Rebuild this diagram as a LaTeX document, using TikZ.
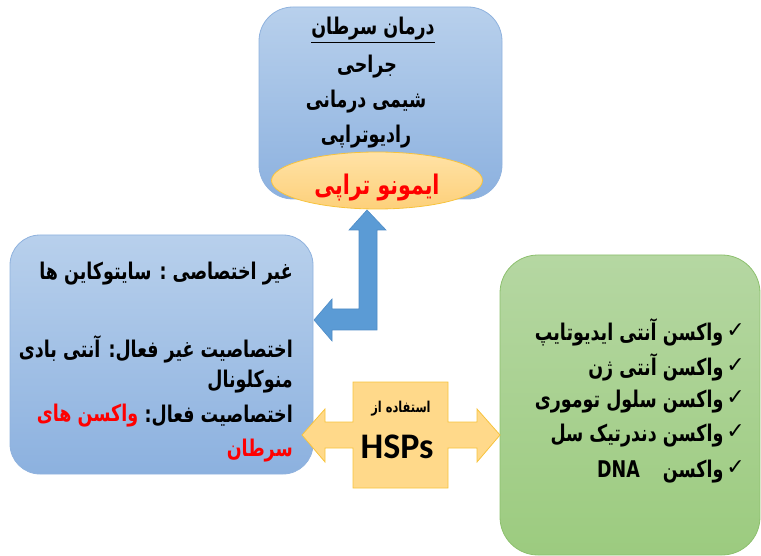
\documentclass[tikz,border=0pt]{standalone}
\usepackage{fontspec}
\TeXXeTstate=1
\newfontfamily\fa[Script=Arabic, FakeStretch=0.76]{DejaVu Sans}
\newfontfamily\faplain{DejaVu Sans}
\newfontfamily\carlitofont{Carlito}
\usetikzlibrary{shapes.geometric}
\definecolor{bluetop}{HTML}{B8D0EC}
\definecolor{bluebot}{HTML}{8CB1DF}
\definecolor{blueedge}{HTML}{8FB2DE}
\definecolor{arrowblue}{HTML}{5B9BD5}
\definecolor{arrowblueedge}{HTML}{4F8CC6}
\definecolor{oratop}{HTML}{FFE2A6}
\definecolor{orabot}{HTML}{FDD07A}
\definecolor{oraedge}{HTML}{F7C33D}
\definecolor{orafill}{HTML}{FFD98A}
\definecolor{greentop}{HTML}{B5D7A2}
\definecolor{greenbot}{HTML}{9CCB7F}
\definecolor{greenedge}{HTML}{8DC06E}
\newcommand{\chk}{\raisebox{3pt}{\faplain\mdseries\fontsize{22}{22}\selectfont ✓}\hspace{3pt}}
\tikzset{
  bluebox/.style={draw=blueedge, line width=0.8pt, rounded corners=34pt, top color=bluetop, bottom color=bluebot, inner sep=0pt},
  greenbox/.style={draw=greenedge, line width=0.8pt, rounded corners=38pt, top color=greentop, bottom color=greenbot, inner sep=0pt},
  oval/.style={ellipse, draw=oraedge, line width=0.8pt, top color=oratop, bottom color=orabot, inner sep=0pt},
  fatxt/.style={font=\fa\bfseries\fontsize{23}{25}\selectfont, inner sep=0pt},
  blockblue/.style={fill=arrowblue, draw=arrowblueedge, line width=0.6pt, line join=miter},
  blockora/.style={fill=orafill, draw=oraedge, line width=0.8pt, line join=miter},
}
\begin{document}
\begin{tikzpicture}[x=1pt,y=-1pt]
\useasboundingbox (0,0) rectangle (761,556);
% top box
\node[bluebox, minimum width=243pt, minimum height=192pt] (top) at (380.5,103) {};
\node[fatxt] (t1) at (373,30) {\underline{\beginR درمان سرطان\endR}};
\node[fatxt] (t2) at (367,67) {\beginR جراحی\endR};
\node[fatxt] (t3) at (366,102) {\beginR شیمی درمانی\endR};
\node[fatxt] (t4) at (366,137) {\beginR رادیوتراپی\endR};
\node[oval, minimum width=211pt, minimum height=57pt] (imm) at (377,180.5) {};
\node[fatxt, text=red, font=\fa\bfseries\fontsize{27}{29}\selectfont] (immt) at (377,188) {\beginR ایمونو تراپی\endR};
% blue bent arrow
\draw[blockblue] (367,210) -- (386,230) -- (377,230) -- (377,330) -- (332,330) -- (332,341)
  -- (314,320) -- (332,299) -- (332,309) -- (359,309) -- (359,230) -- (349,230) -- cycle;
% left box
\node[bluebox, rounded corners=30pt, minimum width=303pt, minimum height=239pt] (left) at (161.5,354.5) {};
\node[fatxt, anchor=east] (l1) at (293,274) {\beginR غیر اختصاصی : سایتوکاین ها\endR};
\node[fatxt, anchor=east] (l2) at (293,349) {\beginR اختصاصیت غیر فعال: آنتی بادی\endR};
\node[fatxt, anchor=east] (l3) at (293,382) {\beginR منوکلونال\endR};
\node[fatxt, anchor=east] (l4a) at (293,416) {\beginR اختصاصیت فعال:\endR};
\node[fatxt, anchor=east, text=red] (l4b) at ([xshift=-6pt]l4a.west) {\beginR واکسن های\endR};
\node[fatxt, anchor=east, text=red] (l5) at (293,451) {\beginR سرطان\endR};
% green box
\node[greenbox, minimum width=260pt, minimum height=300pt] (right) at (630,405) {};
% orange double arrow
\draw[blockora] (302,435) -- (325,409) -- (325,422) -- (353,422) -- (353,382) -- (448,382)
  -- (448,422) -- (477,422) -- (477,409) -- (500,435) -- (477,462) -- (477,448) -- (448,448)
  -- (448,488) -- (353,488) -- (353,448) -- (325,448) -- (325,462) -- cycle;
\node[inner sep=0pt, font=\fa\bfseries\fontsize{15}{17}\selectfont] (use) at (401,409) {\beginR استفاده از\endR};
\node[inner sep=0pt, font=\carlitofont\bfseries\fontsize{36}{40}\selectfont] (hsp) at (397,447) {HSPs};
% green list
\node[fatxt, anchor=east] (g1) at (745,332) {\beginR\chk واکسن آنتی ایدیوتایپ\endR};
\node[fatxt, anchor=east] (g2) at (745,367) {\beginR\chk واکسن آنتی ژن\endR};
\node[fatxt, anchor=east] (g3) at (745,402) {\beginR\chk واکسن سلول توموری\endR};
\node[fatxt, anchor=east] (g4) at (745,436) {\beginR\chk واکسن دندرتیک سل\endR};
\node[fatxt, anchor=east] (g5) at (745,472) {\beginR\chk واکسن\quad\beginL DNA\endL\endR};
\end{tikzpicture}
\end{document}
